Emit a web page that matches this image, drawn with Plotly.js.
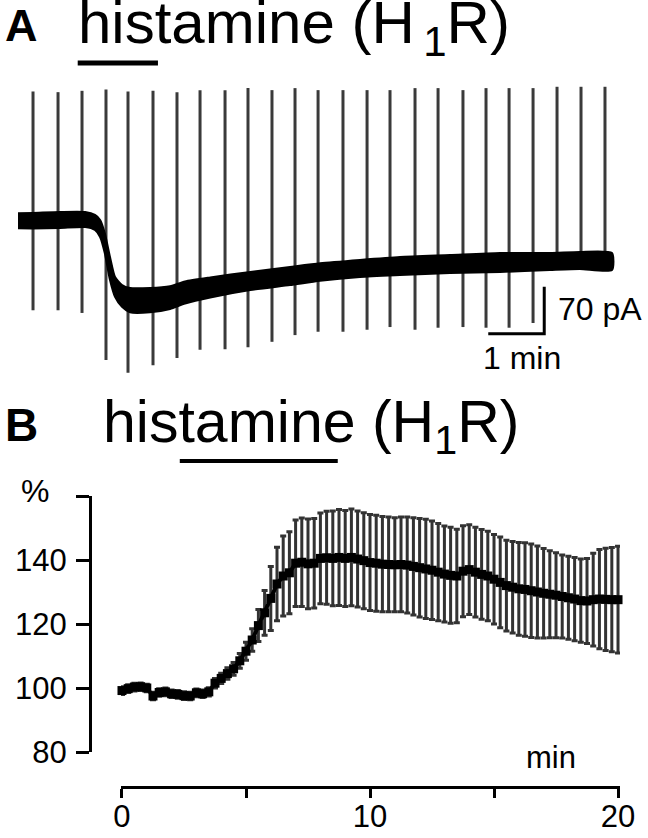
<!DOCTYPE html>
<html>
<head>
<meta charset="utf-8">
<script src="https://cdn.plot.ly/plotly-3.0.1.min.js"></script>
<style>html,body{margin:0;padding:0;background:#fff;}#chart{width:648px;height:838px;}</style>
</head>
<body>
<div id="chart"></div>
<script>
// ---------- Panel A : whole-cell current trace (time in s, current in pA) ----------
const traceT     = [0, 16, 45, 72, 82.5, 88, 93, 98.6, 104, 111.5, 120, 141.5, 163, 179, 206, 249, 291.5, 323.7, 366.5, 409.4, 463, 516.6, 570, 602, 636.6];
const traceUpper = [11.5, 12, 13.4, 13.4, 9, 1.5, -17.9, -53.6, -83.4, -95.4, -99.8, -99.8, -97, -90, -84, -76, -68.5, -63, -58, -53.6, -50.7, -47.7, -47.7, -46.2, -47.7];
const traceLower = [-10.9, -11, -10.4, -9, -13.4, -23.8, -47.7, -87.9, -113, -128, -136, -136, -131, -123, -114, -103, -95.4, -89, -83.4, -80.5, -77.5, -76, -73, -71.5, -73];

const spikeT      = [16.1, 42.9, 68.6, 94.3, 117.9, 144.7, 170.4, 195.1, 221.9, 246.5, 272.2, 296.9, 321.6, 348.3, 374.1, 398.7, 425.5, 450.2, 476.9, 501.6, 526.3, 552.0, 577.7, 603.4, 629.1];
const spikeTop    = [193, 192, 194, 196, 193, 194, 192, 195, 195, 198, 195, 198, 195, 195, 195, 195, 198, 198, 195, 198, 198, 198, 200, 200, 200];
const spikeBottom = [-133, -133, -137, -207, -226, -215, -204, -192, -191, -188, -180, -170, -165, -165, -162, -158, -162, -159, -158, -159, -159, -152, -70, -70, -70];

const drugA      = [64, 150];          // s, histamine application bar
const scaleBarT  = [504, 564, 564];    // 1 min horizontal bar
const scaleBarI  = [-168, -168, -98];  // 70 pA vertical bar

// ---------- Panel B : normalised response (% of baseline) ----------
const tB = [0, 0.25, 0.5, 0.75, 1, 1.25, 1.5, 1.75, 2, 2.25,
            2.5, 2.75, 3, 3.25, 3.5, 3.75, 4, 4.25, 4.5, 4.75,
            5, 5.25, 5.5, 5.75, 6, 6.25, 6.5, 6.75, 7, 7.25,
            7.5, 7.75, 8, 8.25, 8.5, 8.75, 9, 9.25, 9.5, 9.75,
            10, 10.25, 10.5, 10.75, 11, 11.25, 11.5, 11.75, 12, 12.25,
            12.5, 12.75, 13, 13.25, 13.5, 13.75, 14, 14.25, 14.5, 14.75,
            15, 15.25, 15.5, 15.75, 16, 16.25, 16.5, 16.75, 17, 17.25,
            17.5, 17.75, 18, 18.25, 18.5, 18.75, 19, 19.25, 19.5, 19.75,
            20];
const meanB = [99.2, 99.8, 100.3, 100.4, 100.0, 97.5, 98.6, 98.8, 98.2, 98.0,
               97.6, 97.5, 98.5, 98.2, 98.8, 101.5, 103.0, 104.5, 106.0, 108.5,
               111.5, 115.0, 119.5, 123.5, 128.0, 132.5, 135.0, 136.0, 139.0, 139.3,
               138.8, 139.0, 140.5, 140.7, 140.5, 140.8, 140.5, 140.8, 140.3, 139.8,
               139.2, 139.0, 138.7, 138.6, 138.5, 138.6, 138.4, 138.0, 137.6, 137.2,
               136.8, 136.2, 135.6, 135.2, 135.0, 136.5, 137.0, 136.2, 135.5, 135.0,
               134.0, 133.0, 132.0, 131.5, 131.0, 130.8, 130.4, 130.0, 129.6, 129.3,
               129.0, 128.6, 128.2, 127.8, 127.3, 127.2, 127.6, 127.8, 127.7, 127.6,
               127.6];
const semB = [1.2, 1.2, 1.2, 1.2, 1.2, 1.2, 1.2, 1.2, 1.2, 1.2,
              1.2, 1.2, 1.2, 1.2, 1.3, 1.5, 1.6, 1.8, 2.0, 2.3,
              2.8, 3.5, 5.0, 7.0, 10.0, 11.5, 12.5, 12.8, 13.5, 13.8,
              14.0, 14.0, 14.2, 14.5, 14.8, 15.0, 15.0, 15.1, 15.0, 15.0,
              15.0, 15.0, 14.9, 14.8, 14.7, 14.8, 15.0, 15.2, 15.4, 15.5,
              15.4, 15.2, 15.0, 15.0, 14.6, 14.2, 14.0, 14.0, 14.0, 14.0,
              14.0, 14.2, 14.2, 14.3, 14.5, 14.6, 14.6, 14.4, 14.0, 13.6,
              13.3, 13.0, 13.0, 13.0, 13.0, 13.3, 14.5, 15.5, 16.0, 16.3,
              16.7];
const drugB = [2.33, 8.7];  // min, histamine application bar

const yTickVals = [80, 100, 120, 140];
const yTickText = ['80', '100', '120', '140'];
const yMinorTicks = [160];
const xTickVals = [0, 10, 20];
const xTickText = ['0', '10', '20'];
const xMinorTicks = [5, 15];

// ---------- helpers ----------
const W = 648, H = 838;
const px = x => x / W;
const py = y => 1 - y / H;
const FONT = 'Liberation Sans, Arial, Helvetica, sans-serif';
const TITLE_A = 'histamine (H<sub>\u20091</sub>R)';
const TITLE_B = 'histamine (H<sub>1</sub>R)';

// spikes as one broken line
const sx = [], sy = [];
spikeT.forEach((t, i) => { sx.push(t, t, null); sy.push(spikeTop[i], spikeBottom[i], null); });

const data = [
  { x: sx, y: sy, xaxis: 'x2', yaxis: 'y2', mode: 'lines', type: 'scatter',
    line: { color: '#3a3a3a', width: 3 }, hoverinfo: 'skip' },
  { x: traceT.concat(traceT.slice().reverse()),
    y: traceUpper.concat(traceLower.slice().reverse()),
    xaxis: 'x2', yaxis: 'y2', mode: 'lines', type: 'scatter', fill: 'toself',
    fillcolor: '#000', line: { color: '#000', width: 2, shape: 'spline', smoothing: 0.6 }, hoverinfo: 'skip' },
  { x: scaleBarT, y: scaleBarI, xaxis: 'x2', yaxis: 'y2', mode: 'lines', type: 'scatter',
    line: { color: '#000', width: 3 }, hoverinfo: 'skip' },
  { x: tB, y: meanB, xaxis: 'x', yaxis: 'y', type: 'scatter', mode: 'lines+markers',
    cliponaxis: false,
    line: { color: '#000', width: 4 },
    marker: { symbol: 'square', size: 9, color: '#000' },
    error_y: { type: 'data', array: semB, visible: true, color: '#333', thickness: 3, width: 3 } }
];

const layout = {
  width: W, height: H,
  margin: { l: 0, r: 0, t: 0, b: 0 },
  paper_bgcolor: '#fff', plot_bgcolor: 'rgba(0,0,0,0)',
  showlegend: false,
  font: { family: FONT, color: '#000', size: 31 },
  xaxis2: { domain: [0, 1], range: [-19.29, 675.2], visible: false, anchor: 'y2', fixedrange: true },
  yaxis2: { domain: [py(390), py(70)], range: [-251.8, 225.0], visible: false, anchor: 'x2', fixedrange: true },
  xaxis: {
    domain: [px(121), px(620)], range: [-0.04, 20.08],
    anchor: 'free', position: py(787),
    showline: true, linewidth: 3, linecolor: '#000',
    ticks: 'outside', ticklen: 9, tickwidth: 3, tickcolor: '#000',
    tickvals: xTickVals, ticktext: xTickText, ticklabelstandoff: -8,
    minor: { tickvals: xMinorTicks, ticks: 'outside', ticklen: 9, tickwidth: 3, tickcolor: '#000', showgrid: false },
    tickfont: { size: 31, family: FONT, color: '#000' },
    showgrid: false, zeroline: false, automargin: false, fixedrange: true
  },
  yaxis: {
    domain: [py(752), py(496)], range: [80, 160],
    anchor: 'free', position: px(90),
    showline: true, linewidth: 3, linecolor: '#000',
    ticks: 'outside', ticklen: 13, tickwidth: 3, tickcolor: '#000',
    tickvals: yTickVals, ticktext: yTickText, ticklabelstandoff: 3,
    minor: { tickvals: yMinorTicks, ticks: 'outside', ticklen: 13, tickwidth: 3, tickcolor: '#000', showgrid: false },
    tickfont: { size: 31, family: FONT, color: '#000' },
    showgrid: false, zeroline: false, automargin: false, fixedrange: true
  },
  shapes: [
    { type: 'line', xref: 'x2', yref: 'paper', x0: drugA[0], x1: drugA[1], y0: py(63), y1: py(63),
      line: { color: '#000', width: 5 } },
    { type: 'line', xref: 'x', yref: 'paper', x0: drugB[0], x1: drugB[1], y0: py(461), y1: py(461),
      line: { color: '#000', width: 4 } }
  ],
  annotations: [
    { text: '<b>A</b>', xref: 'paper', yref: 'paper', x: px(21), y: py(25), xanchor: 'center', yanchor: 'middle',
      showarrow: false, font: { size: 45, family: FONT, weight: 'bold' } },
    { text: TITLE_A, xref: 'paper', yref: 'paper', x: px(76), y: py(27), xanchor: 'left', yanchor: 'middle',
      showarrow: false, font: { size: 60, family: FONT } },
    { text: '70 pA', xref: 'paper', yref: 'paper', x: px(556), y: py(309), xanchor: 'left', yanchor: 'middle',
      showarrow: false, font: { size: 32, family: FONT } },
    { text: '1 min', xref: 'paper', yref: 'paper', x: px(522), y: py(358), xanchor: 'center', yanchor: 'middle',
      showarrow: false, font: { size: 32, family: FONT } },
    { text: '<b>B</b>', xref: 'paper', yref: 'paper', x: px(21), y: py(425), xanchor: 'center', yanchor: 'middle',
      showarrow: false, font: { size: 46, family: FONT, weight: 'bold' } },
    { text: TITLE_B, xref: 'paper', yref: 'paper', x: px(101), y: py(426), xanchor: 'left', yanchor: 'middle',
      showarrow: false, font: { size: 59, family: FONT } },
    { text: '%', xref: 'paper', yref: 'paper', x: px(35), y: py(491), xanchor: 'center', yanchor: 'middle',
      showarrow: false, font: { size: 32, family: FONT } },
    { text: 'min', xref: 'paper', yref: 'paper', x: px(551), y: py(757), xanchor: 'center', yanchor: 'middle',
      showarrow: false, font: { size: 31, family: FONT } }
  ]
};

Plotly.newPlot('chart', data, layout, { staticPlot: true, displayModeBar: false });
</script>
</body>
</html>
